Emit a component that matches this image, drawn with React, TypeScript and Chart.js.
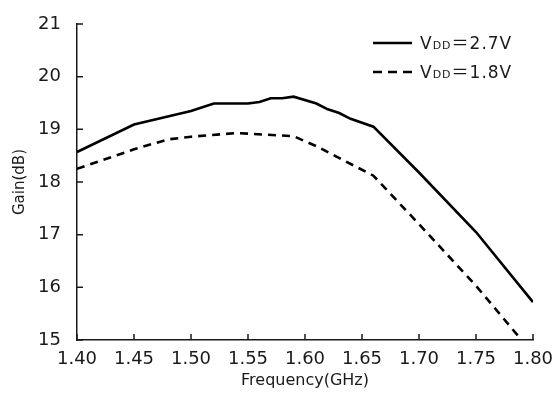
import React, { useEffect, useRef } from "react";
import { Chart, registerables } from "chart.js";

Chart.register(...registerables);

const freq27 = [1.40, 1.45, 1.50, 1.52, 1.55, 1.56, 1.57, 1.58, 1.59, 1.61, 1.62, 1.63, 1.64, 1.66, 1.70, 1.75, 1.80];
const gain27 = [18.57, 19.09, 19.35, 19.49, 19.49, 19.52, 19.59, 19.59, 19.62, 19.49, 19.38, 19.31, 19.20, 19.05, 18.18, 17.05, 15.72];
const freq18 = [1.40, 1.45, 1.48, 1.50, 1.54, 1.59, 1.61, 1.66, 1.70, 1.75, 1.79];
const gain18 = [18.25, 18.62, 18.81, 18.86, 18.93, 18.87, 18.68, 18.12, 17.20, 16.03, 15.00];

const xTickValues = [1.40, 1.45, 1.50, 1.55, 1.60, 1.65, 1.70, 1.75, 1.80];
const xTickLabels = ["1.40", "1.45", "1.50", "1.55", "1.60", "1.65", "1.70", "1.75", "1.80"];
const yTickValues = [15, 16, 17, 18, 19, 20, 21];
const yTickLabels = ["15", "16", "17", "18", "19", "20", "21"];

const legendMain = ["V", "V"];
const legendSub = ["DD", "DD"];
const legendEq = ["＝", "＝"];
const legendRest = ["2.7V", "1.8V"];

const xTitle = "Frequency(GHz)";
const yTitle = "Gain(dB)";

const FONT = "'DejaVu Sans', sans-serif";
const CJK = "'Noto Sans CJK JP', sans-serif";
const INK = "#1a1a1a";

const innerTicks = {
  id: "innerTicks",
  afterDraw(chart: any) {
    const { ctx } = chart;
    const xs = chart.scales.x;
    const ys = chart.scales.y;
    const area = chart.chartArea;
    ctx.save();
    ctx.strokeStyle = INK;
    ctx.lineWidth = 1.5;
    ctx.beginPath();
    xs.ticks.forEach((_t: any, i: number) => {
      const px = xs.getPixelForTick(i);
      ctx.moveTo(px, area.bottom);
      ctx.lineTo(px, area.bottom - 6);
    });
    ys.ticks.forEach((_t: any, i: number) => {
      const py = ys.getPixelForTick(i);
      ctx.moveTo(area.left, py);
      ctx.lineTo(area.left + 6, py);
    });
    ctx.stroke();
    ctx.restore();
  },
};

const insideLegend = {
  id: "insideLegend",
  afterDraw(chart: any) {
    const { ctx } = chart;
    const area = chart.chartArea;
    const x0 = area.right - 160;
    const y0 = area.top + 19;
    const rowH = 29;
    ctx.save();
    chart.data.datasets.forEach((ds: any, i: number) => {
      const y = y0 + i * rowH;
      ctx.strokeStyle = ds.borderColor;
      ctx.lineWidth = ds.borderWidth;
      ctx.setLineDash(ds.legendDash || []);
      ctx.beginPath();
      ctx.moveTo(x0, y);
      ctx.lineTo(x0 + 39, y);
      ctx.stroke();
      ctx.setLineDash([]);
      ctx.fillStyle = INK;
      ctx.textBaseline = "alphabetic";
      ctx.textAlign = "left";
      (ctx as any).letterSpacing = "1px";
      const base = y + 6;
      let tx = x0 + 47;
      ctx.font = `17px ${FONT}`;
      ctx.fillText(legendMain[i], tx, base);
      tx += ctx.measureText(legendMain[i]).width;
      ctx.font = `11px ${FONT}`;
      ctx.fillText(legendSub[i], tx, base);
      tx += ctx.measureText(legendSub[i]).width;
      ctx.font = `17px ${CJK}`;
      ctx.fillText(legendEq[i], tx, base);
      tx += ctx.measureText(legendEq[i]).width;
      ctx.font = `17px ${FONT}`;
      ctx.fillText(legendRest[i], tx, base);
    });
    ctx.restore();
  },
};

export default function App() {
  const ref = useRef<HTMLCanvasElement | null>(null);

  useEffect(() => {
    document.body.style.margin = "0";
    if (!ref.current) return;
    const chart = new Chart(ref.current, {
      type: "line",
      data: {
        datasets: [
          {
            label: "VDD=2.7V",
            data: freq27.map((f, i) => ({ x: f, y: gain27[i] })),
            borderColor: "#000",
            borderWidth: 2.6,
            pointRadius: 0,
            tension: 0,
            fill: false,
            legendDash: [],
          } as any,
          {
            label: "VDD=1.8V",
            data: freq18.map((f, i) => ({ x: f, y: gain18[i] })),
            borderColor: "#000",
            borderWidth: 2.6,
            borderDash: [8, 6],
            pointRadius: 0,
            tension: 0,
            fill: false,
            legendDash: [9, 6],
          } as any,
        ],
      },
      options: {
        animation: false,
        responsive: true,
        maintainAspectRatio: false,
        layout: { padding: { top: 24, right: 23, left: 0, bottom: 0 } },
        plugins: { legend: { display: false }, tooltip: { enabled: false } },
        scales: {
          x: {
            type: "linear",
            min: 1.4,
            max: 1.8,
            afterBuildTicks: (s: any) => {
              s.ticks = xTickValues.map((v) => ({ value: v }));
            },
            afterFit: (s: any) => {
              s.height = 53;
              s.paddingLeft = 0;
              s.paddingRight = 0;
            },
            grid: { display: false, drawTicks: false },
            border: { display: true, color: INK, width: 1.5 },
            ticks: {
              padding: 9,
              color: INK,
              font: { family: FONT, size: 18 },
              maxRotation: 0,
              autoSkip: false,
              callback: (_v: any, i: number) => xTickLabels[i],
            },
            title: {
              display: true,
              text: xTitle,
              color: INK,
              font: { family: FONT, size: 16 },
              padding: { top: 3, bottom: 3 },
            },
          },
          y: {
            type: "linear",
            min: 15,
            max: 21,
            afterBuildTicks: (s: any) => {
              s.ticks = yTickValues.map((v) => ({ value: v }));
            },
            afterFit: (s: any) => {
              s.width = 77;
              s.paddingTop = 0;
              s.paddingBottom = 0;
            },
            grid: { display: false, drawTicks: false },
            border: { display: true, color: INK, width: 1.5 },
            ticks: {
              padding: 16,
              color: INK,
              font: { family: FONT, size: 18 },
              autoSkip: false,
              callback: (_v: any, i: number) => yTickLabels[i],
            },
            title: {
              display: true,
              text: yTitle,
              color: INK,
              font: { family: FONT, size: 15 },
              padding: { top: 11, bottom: 11 },
            },
          },
        },
      },
      plugins: [innerTicks, insideLegend],
    });
    return () => chart.destroy();
  }, []);

  return (
    <div style={{ width: 556, height: 393, position: "relative" }}>
      <canvas ref={ref} />
    </div>
  );
}
